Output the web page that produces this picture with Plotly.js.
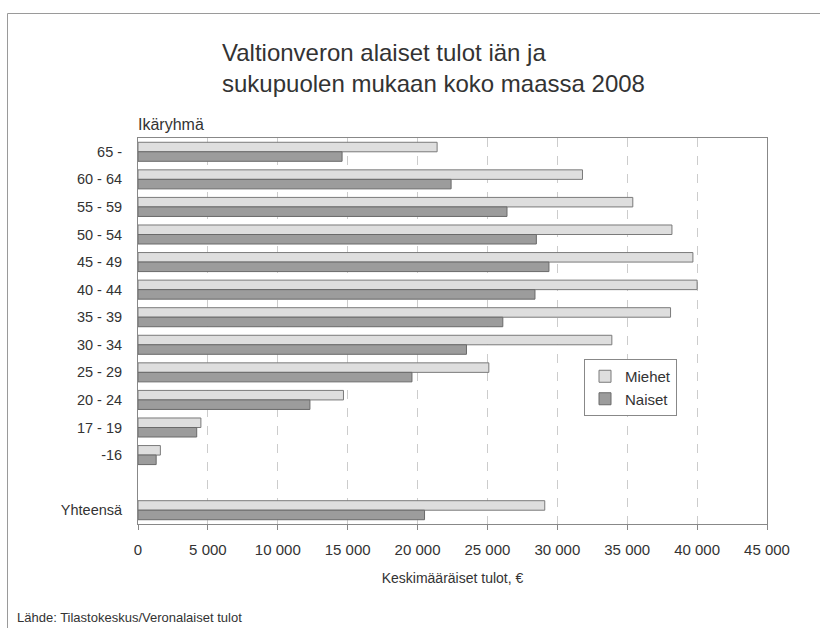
<!DOCTYPE html>
<html>
<head>
<meta charset="utf-8">
<script src="https://cdn.plot.ly/plotly-3.0.1.min.js"></script>
<style>
html,body{margin:0;padding:0;background:#fff;}
#chart{width:820px;height:628px;}
</style>
</head>
<body>
<div id="chart"></div>
<script>
const categories = ['65 -','60 - 64','55 - 59','50 - 54','45 - 49','40 - 44','35 - 39','30 - 34','25 - 29','20 - 24','17 - 19','-16','\u00a0','Yhteensä'];
const miehet = [21400,31800,35400,38200,39700,40000,38100,33900,25100,14700,4500,1600,null,29100];
const naiset = [14600,22400,26400,28500,29400,28400,26100,23500,19600,12300,4200,1300,null,20500];
const seriesNames = ['Miehet','Naiset'];
const xTicks = [0,5000,10000,15000,20000,25000,30000,35000,40000,45000];

const FONT = '"Liberation Sans", Arial, sans-serif';
const TXT = '#333333';

const traces = [
  {type:'bar', orientation:'h', name:seriesNames[0], y:categories, x:miehet,
   marker:{color:'#dedede', line:{color:'#7a7a7a', width:1}}, hoverinfo:'x+y'},
  {type:'bar', orientation:'h', name:seriesNames[1], y:categories, x:naiset,
   marker:{color:'#9c9c9c', line:{color:'#6a6a6a', width:1}}, hoverinfo:'x+y'}
];

const layout = {
  width:820, height:628,
  margin:{l:138, r:53, t:138, b:104, pad:0},
  paper_bgcolor:'#ffffff', plot_bgcolor:'#ffffff',
  font:{family:FONT, color:TXT, size:13},
  separators:', ',
  barmode:'group', bargap:0.31, bargroupgap:0,
  title:{text:'Valtionveron alaiset tulot iän ja<br>sukupuolen mukaan koko maassa 2008',
         font:{family:FONT, size:24, color:TXT},
         x:222/820, xanchor:'left', xref:'container',
         y:1-61/628, yanchor:'top', yref:'container'},
  xaxis:{range:[0,45000], tickvals:xTicks, tickformat:',d',
         showgrid:true, gridcolor:'#cccccc', griddash:'dash', gridwidth:1,
         showline:true, linecolor:'#888888', linewidth:1, mirror:true,
         ticks:'outside', ticklen:5, tickcolor:'#888888',
         ticklabelstandoff:7,
         tickfont:{family:FONT, size:15, color:TXT},
         zeroline:false, fixedrange:true,
         title:{text:'Keskimääräiset tulot, €', font:{family:FONT, size:14, color:TXT}, standoff:16}},
  yaxis:{type:'category', categoryorder:'array', categoryarray:categories,
         autorange:'reversed', showgrid:false, zeroline:false,
         showline:true, linecolor:'#888888', linewidth:1, mirror:true,
         ticks:'', ticklabelstandoff:12,
         tickfont:{family:FONT, size:14.5, color:TXT}, fixedrange:true},
  legend:{x:(584-138)/629, y:(524-359)/386, xanchor:'left', yanchor:'top',
          bgcolor:'#ffffff', bordercolor:'#888888', borderwidth:1,
          font:{family:FONT, size:15, color:TXT}, tracegroupgap:0, itemwidth:30,
          traceorder:'normal'},
  showlegend:true,
  annotations:[
    {text:'Ikäryhmä', xref:'paper', yref:'paper', x:0, y:1, xanchor:'left', yanchor:'bottom',
     yshift:3, xshift:-2, showarrow:false, font:{family:FONT, size:16, color:TXT}},
    {text:'Lähde: Tilastokeskus/Veronalaiset tulot', xref:'paper', yref:'paper',
     x:(15-138)/629, y:(524-627)/386, xanchor:'left', yanchor:'bottom', showarrow:false,
     font:{family:FONT, size:13, color:TXT}}
  ],
  shapes:[
    {type:'rect', xref:'paper', yref:'paper', x0:(7.5-138)/629, x1:(830-138)/629,
     y0:(524-660)/386, y1:(524-13.5)/386, line:{color:'#9a9a9a', width:1}, fillcolor:'rgba(0,0,0,0)', layer:'below'}
  ]
};

Plotly.newPlot('chart', traces, layout, {displayModeBar:false, staticPlot:true});
</script>
</body>
</html>
